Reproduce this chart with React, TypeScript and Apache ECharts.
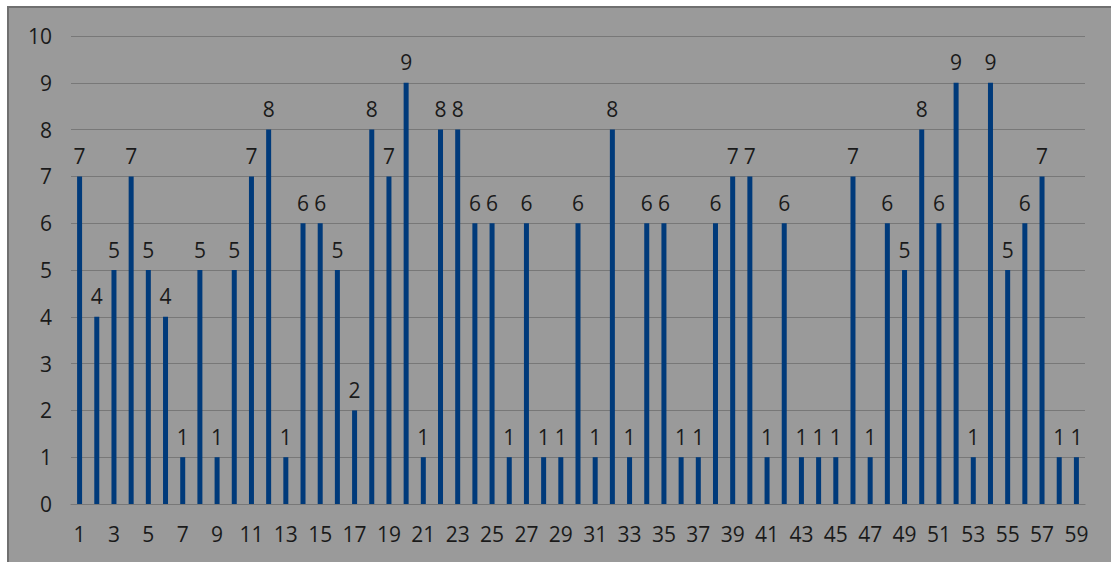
import React, { useEffect, useRef } from "react";
import * as echarts from "echarts";

// Category labels 1..59 and the value of each column
const categories: string[] = [
  "1", "2", "3", "4", "5", "6", "7", "8", "9", "10",
  "11", "12", "13", "14", "15", "16", "17", "18", "19", "20",
  "21", "22", "23", "24", "25", "26", "27", "28", "29", "30",
  "31", "32", "33", "34", "35", "36", "37", "38", "39", "40",
  "41", "42", "43", "44", "45", "46", "47", "48", "49", "50",
  "51", "52", "53", "54", "55", "56", "57", "58", "59",
];

const values: number[] = [
  7, 4, 5, 7, 5, 4, 1, 5, 1, 5,
  7, 8, 1, 6, 6, 5, 2, 8, 7, 9,
  1, 8, 8, 6, 6, 1, 6, 1, 1, 6,
  1, 8, 1, 6, 6, 1, 1, 6, 7, 7,
  1, 6, 1, 1, 1, 7, 1, 6, 5, 8,
  6, 9, 1, 9, 5, 6, 7, 1, 1,
];

const yTicks = { min: 0, max: 10, interval: 1 };

const FONT = "'Open Sans', 'Noto Sans', sans-serif";
const TEXT = "#1a1a1a";
const FS = 21;

export default function App() {
  const ref = useRef<HTMLDivElement>(null);

  useEffect(() => {
    if (!ref.current) return;
    const chart = echarts.init(ref.current, null, { renderer: "svg" });
    chart.setOption({
      animation: false,
      backgroundColor: "#ffffff",
      graphic: [
        {
          type: "rect",
          z: -10,
          shape: { x: 8, y: 7, width: 1120, height: 570 },
          style: { fill: "#9a9a9a", stroke: "#707070", lineWidth: 2 },
          silent: true,
        },
      ],
      grid: { left: 71, right: 26, top: 36, bottom: 58 },
      xAxis: {
        type: "category",
        data: categories,
        axisLine: { show: true, lineStyle: { color: "#787878", width: 1.2 } },
        axisTick: { show: false },
        axisLabel: {
          interval: 1,
          margin: 19,
          color: TEXT,
          fontFamily: FONT,
          fontSize: FS,
        },
      },
      yAxis: {
        type: "value",
        min: yTicks.min,
        max: yTicks.max,
        interval: yTicks.interval,
        axisLine: { show: false },
        axisTick: { show: false },
        splitLine: { lineStyle: { color: "#787878", width: 1.2 } },
        axisLabel: {
          margin: 19,
          color: TEXT,
          fontFamily: FONT,
          fontSize: FS,
        },
      },
      series: [
        {
          type: "bar",
          data: values,
          barWidth: 5,
          itemStyle: { color: "#003a7a" },
          label: {
            show: true,
            position: "top",
            distance: 10,
            color: TEXT,
            fontFamily: FONT,
            fontSize: FS,
          },
        },
      ],
    });
    return () => chart.dispose();
  }, []);

  return (
    <div
      ref={ref}
      style={{ position: "fixed", left: 0, top: 0, width: 1111, height: 562 }}
    />
  );
}
